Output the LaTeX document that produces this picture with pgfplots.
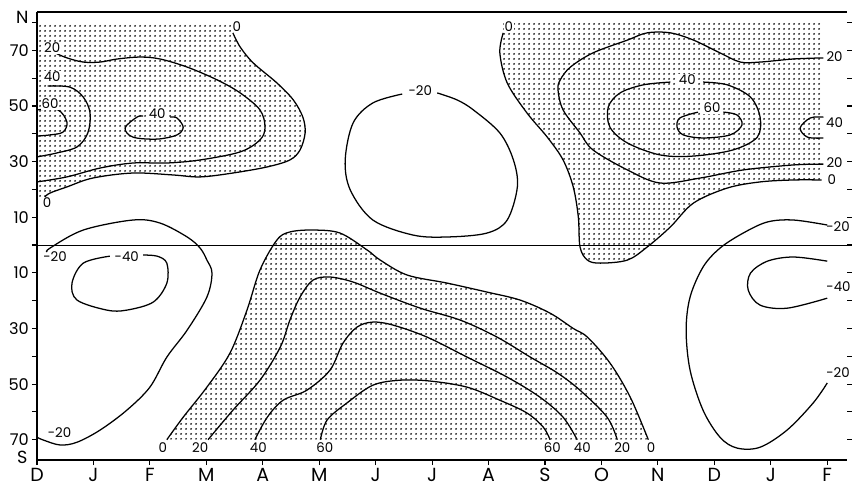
\documentclass[border=0pt]{standalone}
\usepackage{pgfplots}
\pgfplotsset{compat=1.18}
\usepgfplotslibrary{fillbetween}
\usetikzlibrary{patterns.meta}
\usepackage{fontspec}
\setmainfont{Poppins}

\tikzdeclarepattern{
  name=stipple,
  type=uncolored,
  bottom left={(-1.6pt,-1.6pt)},
  top right={(1.6pt,1.6pt)},
  tile size={(3.2pt,3.2pt)},
  code={\pgfpathcircle{\pgfpointorigin}{0.78pt}\pgfusepath{fill}}
}
\tikzset{
  lab/.style={font=\fontsize{9.5}{10}\selectfont, fill=white, inner sep=0.6pt},
  labr/.style={font=\fontsize{9.5}{10}\selectfont, inner sep=0.6pt},
}
\pgfplotsset{
  cline/.style={black, line width=0.9pt, smooth, tension=0.55, mark=none},
  dotfill/.style={pattern=stipple, pattern color=black},
}

\begin{document}
\begin{tikzpicture}
\begin{axis}[
  set layers,
  scale only axis, width=202.5mm, height=112mm,
  xmin=0, xmax=14.35, ymin=-77.3, ymax=83.8,
  separate axis lines,
  x axis line style={line width=0.9pt},
  y axis line style={draw=none},
  tick align=outside,
  major tick length=3.6pt,
  every tick/.style={black, line width=0.8pt},
  xtick={0,1,...,14},
  xticklabels={D,J,F,M,A,M,J,J,A,S,O,N,D,J,F},
  xtick pos=left,
  ytick={-70,-60,...,80},
  yticklabels={70,,50,,30,,10,,10,,30,,50,,70,},
  yticklabel pos=left,
  xticklabel style={font=\fontsize{13.5}{14}\selectfont, inner sep=2pt},
  yticklabel style={font=\fontsize{11.5}{12}\selectfont, inner sep=2pt},
  clip=false,
]
% left axis line (no line on the right side, ticks only)
\draw[line width=0.9pt] (rel axis cs:0,0) -- (rel axis cs:0,1);
% equator
\addplot[black, line width=0.75pt] coordinates {(0,0) (14.35,0)};

% ---------- northern hemisphere, winter/spring ----------
\addplot[cline, name path=zA] coordinates {
 (3.47,76.3) (3.60,71.2) (3.83,65.5) (4.25,58.3) (4.54,52.2) (4.71,46.0)
 (4.75,40.3) (4.66,34.2) (4.48,30.6) (4.08,28.1) (3.47,25.9) (2.89,24.5)
 (2.41,25.2) (1.70,25.9) (0.99,24.1) (0.53,20.9) (0.23,18.7) (0.14,17.3)};
\addplot[draw=none, name path=bA] coordinates {
 (3.47,76.3) (3.47,80) (0,80) (0,17.3) (0.14,17.3)};
\addplot[dotfill] fill between[of=zA and bA];

\addplot[cline] coordinates {
 (0.32,69.1) (0.53,67.3) (0.82,65.8) (1.12,65.8) (1.42,66.9) (1.83,67.6)
 (2.18,66.9) (2.66,64.0) (3.19,59.4) (3.60,54.7) (3.95,48.6) (4.04,42.4)
 (3.95,37.8) (3.60,33.5) (2.89,30.6) (2.30,29.5) (1.70,29.5) (1.12,27.7)
 (0.53,24.5) (0,22.7)};
\addplot[cline] coordinates {
 (0.19,57.2) (0.58,56.8) (0.82,53.2) (0.94,47.5) (0.90,40.3) (0.71,35.3)
 (0.35,33.1) (0,31.7)};
\addplot[cline] coordinates {
 (0,48.6) (0.37,48.6) (0.53,44.2) (0.46,40.6) (0.23,39.6) (0,39.2)};
\addplot[cline] coordinates {
 (1.88,46.4) (1.77,46.0) (1.56,42.1) (1.70,38.8) (2.13,38.1) (2.48,39.6)
 (2.59,42.4) (2.48,45.7) (2.36,46.0)};

% ---------- northern hemisphere, summer low ----------
\addplot[cline] coordinates {
 (7.09,54.7) (7.44,52.2) (7.73,48.6) (8.20,40.3) (8.44,30.6) (8.51,20.9)
 (8.33,9.0) (7.97,4.3) (7.27,2.9) (6.66,3.6) (5.95,9.0) (5.55,19.8)
 (5.46,30.6) (5.60,43.9) (5.95,51.1) (6.47,54.3)};

% ---------- northern hemisphere, autumn/winter ----------
\addplot[cline, name path=zB] coordinates {
 (8.26,76.3) (8.20,69.1) (8.33,58.3) (8.68,47.5) (9.04,38.8) (9.32,30.6)
 (9.50,20.9) (9.59,10.1) (9.62,-0.7) (9.75,-5.4) (9.98,-6.5) (10.46,-5.4)
 (10.81,-0.7) (11.22,6.5) (11.63,15.1) (12.23,20.5) (12.81,22.7)
 (13.40,23.4) (13.90,23.4)};
\addplot[draw=none, name path=bB] coordinates {
 (8.26,76.3) (8.26,80) (13.90,80) (13.90,23.4)};
\addplot[dotfill] fill between[of=zB and bB];

\addplot[cline] coordinates {
 (13.93,67.3) (13.40,66.9) (12.81,65.8) (12.46,65.8) (12.10,69.1)
 (11.63,73.7) (11.22,76.3) (10.81,76.3) (10.46,73.7) (9.85,69.1)
 (9.45,64.0) (9.27,59.4) (9.23,55.8) (9.32,48.6) (9.62,40.3) (9.85,34.2)
 (10.46,27.0) (11.04,22.3) (11.75,24.1) (12.51,27.0) (13.40,28.8)
 (13.93,29.1)};
\addplot[cline] coordinates {
 (11.80,58.6) (12.23,57.6) (12.64,53.2) (12.81,46.0) (12.76,38.8)
 (12.33,34.2) (11.63,32.0) (11.04,32.4) (10.46,36.7) (10.15,42.4)
 (10.12,49.6) (10.33,54.7) (10.74,57.6) (11.22,58.6)};
\addplot[cline] coordinates {
 (12.16,47.8) (12.40,46.8) (12.49,43.2) (12.28,39.6) (11.80,38.5)
 (11.45,39.6) (11.34,42.4) (11.39,45.7) (11.71,47.8)};
\addplot[cline] coordinates {
 (13.93,46.0) (13.70,45.7) (13.52,42.1) (13.65,38.8) (13.93,38.5)};

% ---------- southern hemisphere ----------
\addplot[cline] coordinates {
 (14.00,7.2) (13.40,9.0) (12.94,8.3) (12.51,4.3) (12.10,-1.1) (11.80,-7.9)
 (11.57,-18.7) (11.50,-30.6) (11.57,-45.0) (11.80,-59.4) (12.10,-69.1)
 (12.40,-73.0) (12.81,-72.7) (13.29,-66.5) (13.75,-56.8) (14.00,-49.6)};
\addplot[cline] coordinates {
 (14.00,-5.8) (13.40,-4.3) (12.94,-5.8) (12.64,-10.1) (12.60,-16.2)
 (12.81,-21.6) (13.29,-22.7) (14.00,-19.1)};
\addplot[cline] coordinates {
 (0.18,-2.5) (0.23,-1.1) (0.82,5.4) (1.70,9.0) (2.18,7.9) (2.66,2.9)
 (2.89,-1.1) (3.01,-5.4) (3.10,-10.1) (3.01,-18.7) (2.66,-30.6)
 (2.30,-40.3) (2.00,-51.1) (1.59,-59.4) (1.12,-66.5) (0.71,-70.9)
 (0.41,-71.9) (0.11,-70.1) (0,-69.1)};
\addplot[cline] coordinates {
 (1.88,-3.6) (2.13,-4.0) (2.30,-6.5) (2.30,-13.7) (2.06,-20.5)
 (1.59,-23.4) (1.24,-23.4) (0.71,-19.8) (0.62,-13.7) (0.82,-6.5)
 (1.29,-4.0)};

\addplot[cline, name path=zC] coordinates {
 (2.30,-70) (2.59,-61.9) (3.01,-51.1) (3.42,-38.8) (3.72,-23.4)
 (3.95,-9.0) (4.25,1.8) (4.48,4.7) (4.89,5.4) (5.37,4.3) (5.85,-1.8)
 (6.08,-5.4) (6.56,-10.8) (7.27,-13.7) (7.97,-16.9) (8.56,-19.8)
 (9.09,-24.5) (9.50,-30.0) (9.75,-33.1) (10.15,-42.4) (10.51,-54.7)
 (10.83,-70)};
\addplot[draw=none, name path=bC] coordinates {(2.30,-70) (10.83,-70)};
\addplot[dotfill] fill between[of=zC and bC];

\addplot[cline] coordinates {
 (3.03,-70) (3.47,-59.4) (3.95,-48.6) (4.31,-36.7) (4.48,-27.0)
 (4.66,-18.7) (4.89,-12.6) (5.19,-11.5) (5.60,-13.3) (6.08,-17.3)
 (6.79,-22.7) (7.50,-27.0) (8.15,-33.1) (8.74,-40.3) (9.22,-46.0)
 (9.62,-52.2) (10.10,-61.9) (10.28,-70)};
\addplot[cline] coordinates {
 (3.86,-70) (4.08,-61.9) (4.36,-55.8) (4.78,-52.2) (5.19,-45.0)
 (5.42,-35.3) (5.67,-29.5) (5.95,-27.7) (6.31,-28.8) (6.91,-33.1)
 (7.62,-40.3) (8.33,-47.5) (8.91,-54.7) (9.32,-61.9) (9.57,-70)};
\addplot[cline] coordinates {
 (5.02,-70) (5.14,-62.9) (5.49,-56.8) (5.95,-50.4) (6.43,-48.6)
 (6.96,-48.9) (7.62,-51.1) (8.20,-55.8) (8.68,-60.4) (8.97,-65.5)
 (9.09,-70)};

% ---------- contour labels ----------
\node[lab] at (axis cs:0.27,70.9) {20};
\node[lab] at (axis cs:0.27,60.4) {40};
\node[lab] at (axis cs:0.23,50.7) {60};
\node[lab] at (axis cs:2.13,47.1) {40};
\node[lab] at (axis cs:3.54,78.6) {0};
\node[labr] at (axis cs:0.18,15.3) {0};
\node[labr] at (axis cs:6.79,55.4) {-20};
\node[lab] at (axis cs:8.36,78.6) {0};
\node[lab] at (axis cs:11.52,59.4) {40};
\node[lab] at (axis cs:11.96,49.3) {60};
\node[labr] at (axis cs:14.13,67.6) {20};
\node[labr] at (axis cs:14.13,43.9) {40};
\node[labr] at (axis cs:14.13,29.5) {20};
\node[labr] at (axis cs:14.08,23.4) {0};
\node[labr] at (axis cs:14.19,6.5) {-20};
\node[labr] at (axis cs:14.20,-15.1) {-40};
\node[labr] at (axis cs:14.19,-46.0) {-20};
\node[labr] at (axis cs:0.32,-4.3) {-20};
\node[labr] at (axis cs:1.59,-4.0) {-40};
\node[labr] at (axis cs:0.40,-67.6) {-20};
\node[labr] at (axis cs:2.23,-73.0) {0};
\node[labr] at (axis cs:2.89,-73.0) {20};
\node[labr] at (axis cs:3.92,-73.0) {40};
\node[labr] at (axis cs:5.10,-73.0) {60};
\node[labr] at (axis cs:9.13,-73.0) {60};
\node[labr] at (axis cs:9.66,-73.0) {40};
\node[labr] at (axis cs:10.37,-73.0) {20};
\node[labr] at (axis cs:10.88,-72.8) {0};

% hemisphere letters on the latitude scale
\node[font=\fontsize{12.5}{13}\selectfont] at ([xshift=-10.5pt]axis cs:0,82) {N};
\node[font=\fontsize{12.5}{13}\selectfont] at ([xshift=-10.5pt]axis cs:0,-76.2) {S};
\end{axis}
\pgfresetboundingbox
\path ([xshift=-9.25mm,yshift=-7mm]current axis.south west)
  rectangle ([xshift=1.25mm,yshift=3mm]current axis.north east);
\end{tikzpicture}
\end{document}
